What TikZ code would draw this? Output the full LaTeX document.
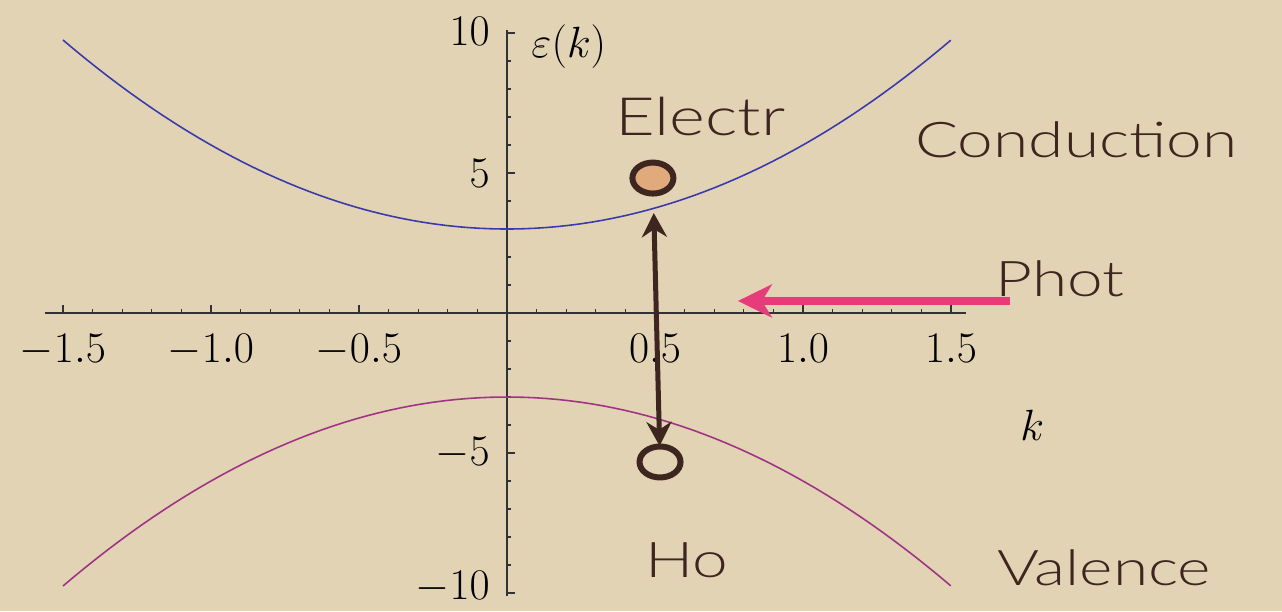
\documentclass[tikz,border=0pt]{standalone}
\usepackage{fontspec}
\usetikzlibrary{arrows.meta,shapes.geometric}
\newfontfamily\handfont[FakeStretch=1.3]{Lato Light}
\definecolor{parchment}{RGB}{226,211,181}
\definecolor{inkbrown}{RGB}{62,38,32}
\definecolor{condblue}{RGB}{58,58,172}
\definecolor{valplum}{RGB}{160,52,132}
\definecolor{photpink}{RGB}{230,60,122}
\definecolor{electan}{RGB}{224,170,124}
\begin{document}
\begin{tikzpicture}[x=5.92cm,y=0.56cm,
  band/.style={line width=0.9pt},
  axtick/.style={line width=0.6pt,black!80},
  ticklab/.style={inner sep=0pt,font=\fontsize{24}{28}\selectfont},
  word/.style={inner sep=0pt,anchor=base west,text=inkbrown,font=\handfont\fontsize{28}{32}\selectfont},
  carrier/.style={ellipse,draw=inkbrown,line width=0.12cm,minimum width=0.82cm,minimum height=0.62cm,inner sep=0pt}]
\fill[parchment] (-1.7128,-10.643) rectangle (2.6182,11.179);
\draw[axtick] (-1.56,0) -- (1.55,0);
\draw[axtick] (0,-10.1) -- (0,10.1);
\foreach \i in {-15,...,15} \draw[axtick] (\i/10,0) -- ++(0,0.08cm);
\foreach \x in {-1.5,-1,-0.5,0.5,1,1.5} \draw[axtick] (\x,0) -- ++(0,0.16cm);
\foreach \j in {-10,...,10} \draw[axtick] (0,\j) -- ++(0.08cm,0);
\foreach \y in {-10,-5,5,10} \draw[axtick] (0,\y) -- ++(0.16cm,0);
\foreach \x/\t [count=\n] in {-1.5/-1.5,-1/-1.0,-0.5/-0.5,0.5/0.5,1/1.0,1.5/1.5}
  \node[ticklab,anchor=base] (xlab\n) at ([yshift=-0.98cm]\x,0) {$\t$};
\foreach \y/\t/\s [count=\n] in {10/10/0.03,5/5/0,-5/-5/0,-10/-10/0.11}
  \node[ticklab,anchor=east] (ylab\n) at ([xshift=-0.34cm,yshift=\s cm]0,\y) {$\t$};
\node[ticklab,font=\fontsize{25}{29}\selectfont] (epslab) at (0.209,9.5) {$\varepsilon(k)$};
\node[ticklab,font=\fontsize{25}{29}\selectfont] (klab) at (1.774,-4.0) {$k$};
\draw[band,condblue] plot[domain=-1.5:1.5,samples=80] (\x,{3+3*\x*\x});
\draw[band,valplum] plot[domain=-1.5:1.5,samples=80] (\x,{-3-3*\x*\x});
\node[carrier,fill=electan] (elec) at (0.493,4.82) {};
\node[carrier] (hole) at (0.517,-5.32) {};
\draw[inkbrown,line width=0.1cm,{Stealth[length=0.48cm,width=0.5cm]}-{Stealth[length=0.48cm,width=0.5cm]},shorten <=0.33cm,shorten >=-0.05cm] (elec) -- (hole);
\coordinate (phottail) at (1.699,0.43);
\coordinate (phottip) at (0.780,0.43);
\draw[photpink,line width=0.16cm,-{Stealth[length=0.68cm,width=0.66cm,inset=0.2cm]}] (phottail) -- (phottip);
\node[word,font=\handfont\fontsize{30}{34}\selectfont] (lblelectr) at (0.365,6.357) {Electr};
\node[word] (lblcond) at (1.378,5.571) {Conduction};
\node[word] (lblphot) at (1.649,0.607) {Phot};
\node[word] (lblho) at (0.466,-9.46) {Ho};
\node[word] (lblval) at (1.655,-9.714) {Valence};
\end{tikzpicture}
\end{document}
